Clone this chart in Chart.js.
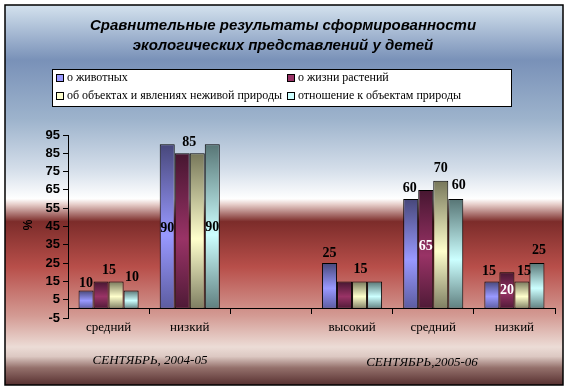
<!DOCTYPE html>
<html lang="ru">
<head>
<meta charset="utf-8">
<title>Сравнительные результаты</title>
<script src="https://cdn.jsdelivr.net/npm/chart.js"></script>
<style>
  html, body { margin: 0; padding: 0; background: #fff; }
  canvas { display: block; }
</style>
</head>
<body>
<canvas id="grafico" width="569" height="392"></canvas>
<script>
// Datos del gráfico
const categorias = ["средний", "низкий", "", "высокий", "средний", "низкий"];
const serieNombres = [
  "о животных",
  "о жизни растений",
  "об объектах и явлениях неживой природы",
  "отношение к объектам природы"
];
const oZhivotnyh = [10, 90, null, 25, 60, 15];
const oZhizniRasteniy = [15, 85, null, 15, 65, 20];
const oNezhivoyPrirode = [15, 85, null, 15, 70, 15];
const otnoshenie = [10, 90, null, 15, 60, 25];
const periodos = ["СЕНТЯБРЬ, 2004-05", "СЕНТЯБРЬ,2005-06"];

// Colores: oscuro arriba, claro al medio, oscuro abajo
const colores = [
  { osc: "#47477a", cla: "#9999ff", bas: "#5c5ca0" },
  { osc: "#461630", cla: "#993366", bas: "#4e1a36" },
  { osc: "#77775a", cla: "#ffffcc", bas: "#7e7e62" },
  { osc: "#577575", cla: "#ccffff", bas: "#5f7f7f" }
];

// Posición de etiquetas: [modo, dx, dy]  t = encima, m = centro, w = centro blanco
const etiquetas = [
  [["t", 0, -7], ["m", 0, 2], null, ["t", 0, -10], ["t", -1, -11], ["t", -3, -10]],
  [["t", 8, -11], ["t", 7, -11], null, null, ["w", 0, -3], ["w", 0, 0]],
  [null, null, null, ["t", 1, -12], ["t", 0, -12], ["t", 2, -10]],
  [["t", 1, -13], ["m", 0, 1], null, null, ["t", 3, -14], ["t", 2, -13]]
];

function gradienteBarra(ctx, k) {
  const c = colores[k];
  const chart = ctx.chart;
  const y = chart.scales.y;
  if (!y || ctx.type !== "data" || !ctx.parsed || ctx.parsed.y == null) return c.cla;
  const top = y.getPixelForValue(ctx.parsed.y);
  const base = y.getPixelForValue(0);
  if (!isFinite(top) || !isFinite(base) || top === base) return c.cla;
  const g = chart.ctx.createLinearGradient(0, top, 0, base);
  g.addColorStop(0, c.osc);
  g.addColorStop(0.55, c.cla);
  g.addColorStop(1, c.bas);
  return g;
}

// Fondo con degradado y marco
const fondoPlugin = {
  id: "fondo",
  beforeDraw(chart) {
    const ctx = chart.ctx;
    ctx.save();
    ctx.fillStyle = "#fff";
    ctx.fillRect(0, 0, chart.width, chart.height);
    const g = ctx.createLinearGradient(0, 5, 0, 385);
    const stops = [
      [0, "#d4e2ee"], [0.145, "#7991b8"], [0.3, "#9db3cc"], [0.43, "#d3dde9"],
      [0.51, "#ffffff"], [0.525, "#e6cdc9"], [0.57, "#7c2c2a"], [0.69, "#b84f4a"],
      [0.82, "#d49c95"], [0.9, "#ecdcd6"], [0.925, "#dcc8c2"], [0.955, "#94706b"],
      [1, "#573030"]
    ];
    stops.forEach(s => g.addColorStop(s[0], s[1]));
    ctx.fillStyle = g;
    ctx.fillRect(5, 5, 558, 380);
    ctx.strokeStyle = "#000";
    ctx.lineWidth = 1.5;
    ctx.strokeRect(5, 5, 558, 380);
    ctx.restore();
  },
  afterDraw(chart) {
    const ctx = chart.ctx;
    ctx.save();
    // Título
    ctx.fillStyle = "#000";
    ctx.textAlign = "center";
    ctx.textBaseline = "middle";
    ctx.font = "italic bold 15px 'Liberation Sans', Arial, sans-serif";
    ctx.fillText("Сравнительные результаты сформированности", 283, 26);
    ctx.fillText("экологических представлений у детей", 283, 46);

    // Leyenda
    ctx.fillStyle = "#fff";
    ctx.fillRect(52, 69, 459, 37);
    ctx.strokeStyle = "#000";
    ctx.lineWidth = 1;
    ctx.strokeRect(52.5, 69.5, 459, 37);
    ctx.font = "12px 'Liberation Serif', 'Times New Roman', serif";
    ctx.textAlign = "left";
    const posLeyenda = [[56, 78], [287, 78], [56, 96], [287, 96]];
    chart.data.datasets.forEach((ds, k) => {
      const [lx, ly] = posLeyenda[k];
      ctx.fillStyle = colores[k].cla;
      ctx.fillRect(lx, ly - 4, 7, 7);
      ctx.strokeStyle = "#000";
      ctx.strokeRect(lx + 0.5, ly - 3.5, 7, 7);
      ctx.fillStyle = "#000";
      ctx.fillText(ds.label, lx + 11, ly);
    });

    // Título del eje
    ctx.save();
    ctx.translate(29, 225);
    ctx.rotate(-Math.PI / 2);
    ctx.textAlign = "center";
    ctx.font = "bold 12px 'Liberation Sans', Arial, sans-serif";
    ctx.fillText("%", 0, 0);
    ctx.restore();

    // Periodos
    ctx.textAlign = "center";
    ctx.font = "italic 13px 'Liberation Serif', 'Times New Roman', serif";
    ctx.fillText(periodos[0], 150, 361);
    ctx.fillText(periodos[1], 422, 363);
    ctx.restore();
  }
};

// Etiquetas de valores
const etiquetasPlugin = {
  id: "etiquetas",
  afterDatasetsDraw(chart) {
    const ctx = chart.ctx;
    ctx.save();
    ctx.font = "bold 14px 'Liberation Serif', 'Times New Roman', serif";
    ctx.textAlign = "center";
    ctx.textBaseline = "middle";
    chart.data.datasets.forEach((ds, k) => {
      const meta = chart.getDatasetMeta(k);
      meta.data.forEach((bar, i) => {
        const v = ds.data[i];
        const cfg = etiquetas[k][i];
        if (v == null || !cfg) return;
        const [modo, dx, dy] = cfg;
        let y = modo === "t" ? bar.y : (bar.y + bar.base) / 2;
        ctx.fillStyle = modo === "w" ? "#fff" : "#000";
        ctx.fillText(String(v), bar.x + dx, y + dy);
      });
    });
    ctx.restore();
  }
};

const series = [oZhivotnyh, oZhizniRasteniy, oNezhivoyPrirode, otnoshenie];

new Chart(document.getElementById("grafico"), {
  type: "bar",
  data: {
    labels: categorias,
    datasets: series.map((datos, k) => ({
      label: serieNombres[k],
      data: datos,
      backgroundColor: ctx => gradienteBarra(ctx, k),
      borderColor: "#000",
      borderWidth: 1,
      borderSkipped: false,
      categoryPercentage: 0.74,
      barPercentage: 1
    }))
  },
  options: {
    responsive: false,
    animation: false,
    devicePixelRatio: 1,
    layout: { padding: { left: 30, right: 14, top: 135, bottom: 74 } },
    plugins: {
      legend: { display: false },
      title: { display: false },
      tooltip: { enabled: false }
    },
    scales: {
      x: {
        position: { y: 0 },
        grid: {
          drawOnChartArea: false,
          drawTicks: true,
          tickLength: 5,
          color: "#000",
          offset: true
        },
        border: { display: true, color: "#000", width: 1 },
        ticks: {
          color: "#000",
          padding: 6,
          autoSkip: false,
          maxRotation: 0,
          font: { family: "'Liberation Serif', 'Times New Roman', serif", size: 13 }
        }
      },
      y: {
        min: -5,
        max: 95,
        afterFit: s => { s.width = 38; },
        grid: {
          drawOnChartArea: false,
          drawTicks: true,
          tickLength: 5,
          color: "#000"
        },
        border: { display: true, color: "#000", width: 1 },
        ticks: {
          stepSize: 10,
          autoSkip: false,
          color: "#000",
          padding: 3,
          font: { family: "'Liberation Sans', Arial, sans-serif", size: 13, weight: "bold" }
        }
      }
    }
  },
  plugins: [fondoPlugin, etiquetasPlugin]
});
</script>
</body>
</html>
